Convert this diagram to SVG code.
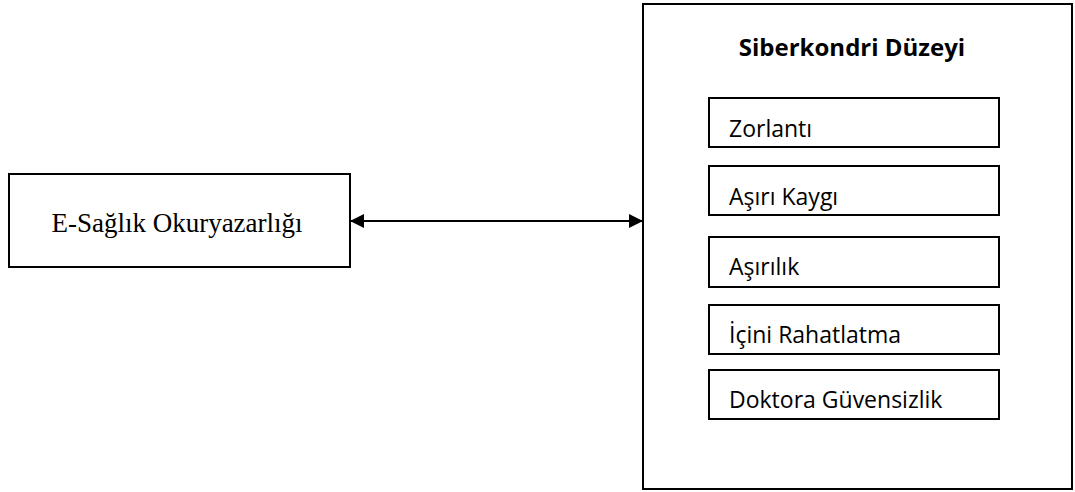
<svg xmlns="http://www.w3.org/2000/svg" width="1075" height="492" viewBox="0 0 1075 492">
<defs>
<style>
.box{fill:#fff;stroke:#000;stroke-width:2}
.sub{fill:#fff;stroke:#000;stroke-width:2}
.serif{font-family:"Liberation Serif","Times New Roman",serif;font-size:27px;fill:#000}
.sans{font-family:"Open Sans","Noto Sans",sans-serif;font-size:23px;fill:#000}
.title{font-family:"Open Sans","Noto Sans",sans-serif;font-size:24px;font-weight:bold;fill:#000}
.conn{stroke:#000;stroke-width:2;fill:none}
</style>
<marker id="ah" viewBox="0 0 14 14" refX="14" refY="7" markerWidth="14" markerHeight="14" markerUnits="userSpaceOnUse" orient="auto-start-reverse">
<path d="M0,0 L14,7 L0,14 z" fill="#000"/>
</marker>
</defs>
<rect width="1075" height="492" fill="#fff"/>
<g id="e-saglik">
<rect class="box" x="9" y="174" width="341" height="93"/>
<text class="serif" x="177" y="232" text-anchor="middle">E-Sağlık Okuryazarlığı</text>
</g>
<g id="siberkondri">
<rect class="box" x="643" y="4" width="429" height="485"/>
<text class="title" x="852" y="56" text-anchor="middle">Siberkondri Düzeyi</text>
</g>
<g id="zorlanti">
<rect class="sub" x="709" y="98" width="290" height="49"/>
<text class="sans" x="729" y="137">Zorlantı</text>
</g>
<g id="asiri-kaygi">
<rect class="sub" x="709" y="166" width="290" height="49"/>
<text class="sans" x="729" y="205">Aşırı Kaygı</text>
</g>
<g id="asirilik">
<rect class="sub" x="709" y="237" width="290" height="50"/>
<text class="sans" x="729" y="275">Aşırılık</text>
</g>
<g id="icini">
<rect class="sub" x="709" y="305" width="290" height="49"/>
<text class="sans" x="729" y="343">İçini Rahatlatma</text>
</g>
<g id="doktora">
<rect class="sub" x="709" y="370" width="290" height="49"/>
<text class="sans" x="729" y="408">Doktora Güvensizlik</text>
</g>
<g id="connectors">
<line class="conn" x1="350" y1="221" x2="643" y2="221" marker-start="url(#ah)" marker-end="url(#ah)"/>
</g>
</svg>
